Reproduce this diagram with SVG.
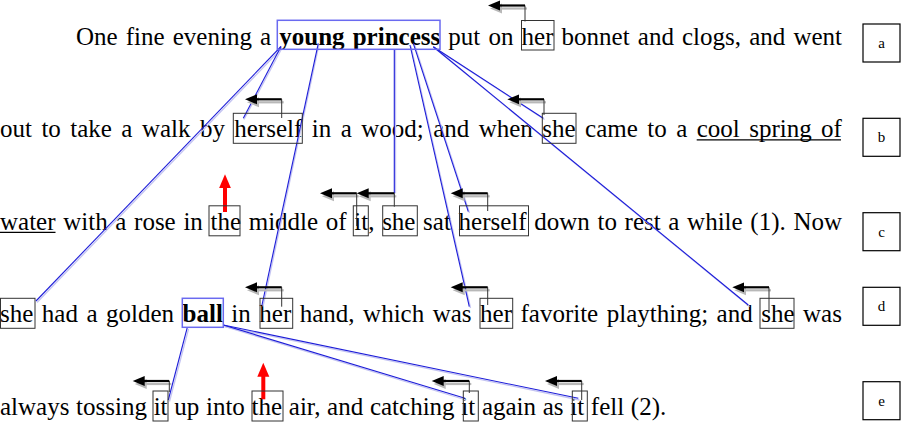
<svg xmlns="http://www.w3.org/2000/svg" width="901" height="422" viewBox="0 0 901 422">
<style>
.t{font-family:"Liberation Serif","Times New Roman",serif;font-size:25px;fill:#000}
.b{font-weight:bold}
.wb{fill:none;stroke:#333;stroke-width:1}
.bb{fill:none;stroke:#6a6af0;stroke-width:1.5}
.lb{fill:none;stroke:#1c1cd8;stroke-width:1.1}
.lh{fill:none;stroke:#c4c4f2;stroke-width:1.3}
.ar{fill:none;stroke:#000;stroke-width:2.2}
.as{fill:none;stroke:#b8b8b8;stroke-width:2.2}
.av{fill:none;stroke:#333;stroke-width:1}
.red{fill:none;stroke:#f00;stroke-width:4}
.lab{fill:#fff;stroke:#000;stroke-width:1.2}
.lt{font-family:"Liberation Serif","Times New Roman",serif;font-size:15px;text-anchor:middle}
.ul{stroke:#000;stroke-width:1.2}
</style>
<defs>
<marker id="ah" markerUnits="userSpaceOnUse" markerWidth="14" markerHeight="12" refX="2" refY="6" orient="auto" viewBox="0 0 14 12">
<path d="M0,1 L12,6 L0,11 z" fill="#000"/>
</marker>
<marker id="ahs" markerUnits="userSpaceOnUse" markerWidth="14" markerHeight="12" refX="2" refY="6" orient="auto" viewBox="0 0 14 12">
<path d="M0,1 L12,6 L0,11 z" fill="#b8b8b8"/>
</marker>
<marker id="rh" markerUnits="userSpaceOnUse" markerWidth="16" markerHeight="13" refX="2" refY="6.5" orient="auto" viewBox="0 0 16 13">
<path d="M0,0.5 L14,6.5 L0,12.5 z" fill="#f00"/>
</marker>
</defs>
<rect width="901" height="422" fill="#fff"/>

<g id="text">
<text class="t" x="76" y="44.8" word-spacing="1.88">One fine evening a <tspan class="b">young princess</tspan> put on her bonnet and clogs, and went</text>
<text class="t" x="0" y="137.3" word-spacing="3.19">out to take a walk by herself in a wood; and when she came to a cool spring of</text>
<text class="t" x="0" y="229.8" word-spacing="1.42">water with a rose in the middle of it, she sat herself down to rest a while (1). Now</text>
<text class="t" x="0" y="322.3" word-spacing="2.25">she had a golden <tspan class="b">ball</tspan> in her hand, which was her favorite plaything; and she was</text>
<text class="t" x="0" y="414.8" word-spacing="0.45">always tossing it up into the air, and catching it again as it fell (2).</text>
<line class="ul" x1="696.7" y1="139.8" x2="841" y2="139.8"/>
<line class="ul" x1="0" y1="232.3" x2="55.5" y2="232.3"/>
</g>

<g id="connectors">
<g id="links-shadow">
<line class="lh" x1="282" y1="48" x2="244" y2="119.5"/>
<line class="lh" x1="282" y1="48" x2="37" y2="302.5"/>
<line class="lh" x1="319" y1="44.5" x2="263" y2="306.5"/>
<line class="lh" x1="395.5" y1="50" x2="395.5" y2="193.3"/>
<line class="lh" x1="414.5" y1="44.5" x2="469.5" y2="213"/>
<line class="lh" x1="411" y1="46.5" x2="470.5" y2="308"/>
<line class="lh" x1="434.5" y1="48" x2="544.5" y2="119.5"/>
<line class="lh" x1="434.5" y1="48" x2="749.5" y2="306.5"/>
<line class="lh" x1="188.5" y1="329" x2="169.5" y2="401.5"/>
<line class="lh" x1="224.5" y1="326.5" x2="466" y2="400"/>
<line class="lh" x1="224.5" y1="326.5" x2="579.5" y2="400"/>
</g>
<g id="links">
<line class="lb" x1="281" y1="46.5" x2="243.3" y2="118.3"/>
<line class="lb" x1="281" y1="46.5" x2="36" y2="301"/>
<line class="lb" x1="318.3" y1="43.3" x2="262" y2="305"/>
<line class="lb" x1="394.3" y1="49.3" x2="394.3" y2="193.3"/>
<line class="lb" x1="413.3" y1="43.3" x2="468.3" y2="211.7"/>
<line class="lb" x1="410" y1="45" x2="469.3" y2="306.7"/>
<line class="lb" x1="433.3" y1="46.7" x2="543.3" y2="118.3"/>
<line class="lb" x1="433.3" y1="46.7" x2="748.3" y2="305"/>
<line class="lb" x1="187.3" y1="327.3" x2="168.3" y2="400"/>
<line class="lb" x1="223.3" y1="325" x2="465" y2="398.3"/>
<line class="lb" x1="223.3" y1="325" x2="578.3" y2="398.3"/>
</g>
<g id="arrow-shadows">
<path class="as" d="M527,8.5 H500" marker-end="url(#ahs)"/>
<path class="as" d="M283.7,102.3 H257" marker-end="url(#ahs)"/>
<path class="as" d="M546,102.3 H519.3" marker-end="url(#ahs)"/>
<path class="as" d="M396.3,196.3 H368.7" marker-end="url(#ahs)"/>
<path class="as" d="M358.7,196.3 H332" marker-end="url(#ahs)"/>
<path class="as" d="M489.7,196.3 H462.7" marker-end="url(#ahs)"/>
<path class="as" d="M283.7,290.3 H257" marker-end="url(#ahs)"/>
<path class="as" d="M489.7,290.3 H462.7" marker-end="url(#ahs)"/>
<path class="as" d="M771,290.3 H744.3" marker-end="url(#ahs)"/>
<path class="as" d="M171.3,384 H144.7" marker-end="url(#ahs)"/>
<path class="as" d="M471.3,384 H443.7" marker-end="url(#ahs)"/>
<path class="as" d="M583.7,384 H557" marker-end="url(#ahs)"/>
</g>
<g id="arrows">
<path class="av" d="M525,21.5 V5.5"/><path class="ar" d="M525,5.5 H498" marker-end="url(#ah)"/>
<path class="av" d="M281.7,118 V99.3"/><path class="ar" d="M281.7,99.3 H255" marker-end="url(#ah)"/>
<path class="av" d="M544,115 V99.3"/><path class="ar" d="M544,99.3 H517.3" marker-end="url(#ah)"/>
<path class="av" d="M394.3,206.7 V193.3"/><path class="ar" d="M394.3,193.3 H366.7" marker-end="url(#ah)"/>
<path class="av" d="M356.7,226 V193.3"/><path class="ar" d="M356.7,193.3 H330" marker-end="url(#ah)"/>
<path class="av" d="M487.7,211 V193.3"/><path class="ar" d="M487.7,193.3 H460.7" marker-end="url(#ah)"/>
<path class="av" d="M281.7,306.7 V287.3"/><path class="ar" d="M281.7,287.3 H255" marker-end="url(#ah)"/>
<path class="av" d="M487.7,305 V287.3"/><path class="ar" d="M487.7,287.3 H460.7" marker-end="url(#ah)"/>
<path class="av" d="M769,313 V287.3"/><path class="ar" d="M769,287.3 H742.3" marker-end="url(#ah)"/>
<path class="av" d="M169.3,392 V381"/><path class="ar" d="M169.3,381 H142.7" marker-end="url(#ah)"/>
<path class="av" d="M469.3,393 V381"/><path class="ar" d="M469.3,381 H441.7" marker-end="url(#ah)"/>
<path class="av" d="M581.7,400 V381"/><path class="ar" d="M581.7,381 H555" marker-end="url(#ah)"/>
</g>
<g id="red-arrows">
<path class="red" d="M225,212 V186.3" marker-end="url(#rh)"/>
<path class="red" d="M263.3,399.3 V374.7" marker-end="url(#rh)"/>
</g>
</g>

<g id="n-young-princess"><rect class="bb" x="277.3" y="20.3" width="162.7" height="29"/></g>
<g id="n-ball"><rect class="bb" x="182.3" y="298.3" width="41" height="29"/></g>
<g id="n-her-1"><rect class="wb" x="521.5" y="20.5" width="32.5" height="29.5"/></g>
<g id="n-herself-2"><rect class="wb" x="233.3" y="113.3" width="69" height="30"/></g>
<g id="n-she-2"><rect class="wb" x="542.3" y="113.3" width="33.7" height="30"/></g>
<g id="n-the-3"><rect class="wb" x="209" y="205.8" width="31" height="30"/></g>
<g id="n-it-3"><rect class="wb" x="353.3" y="205.8" width="15" height="30"/></g>
<g id="n-she-3"><rect class="wb" x="382.7" y="205.8" width="34.6" height="30"/></g>
<g id="n-herself-3"><rect class="wb" x="459.5" y="205.8" width="69" height="30"/></g>
<g id="n-she-4a"><rect class="wb" x="0.5" y="298.3" width="34.5" height="30"/></g>
<g id="n-her-4a"><rect class="wb" x="260" y="298.3" width="32.7" height="30"/></g>
<g id="n-her-4b"><rect class="wb" x="480" y="298.3" width="32.7" height="30"/></g>
<g id="n-she-4b"><rect class="wb" x="760" y="298.3" width="34" height="30"/></g>
<g id="n-it-5a"><rect class="wb" x="153" y="391" width="15" height="30"/></g>
<g id="n-the-5"><rect class="wb" x="252" y="391" width="31" height="30"/></g>
<g id="n-it-5b"><rect class="wb" x="463.3" y="391" width="15" height="30"/></g>
<g id="n-it-5c"><rect class="wb" x="572.3" y="391" width="15" height="30"/></g>

<g id="label-a"><rect class="lab" x="863" y="24" width="37" height="38"/><text class="lt" x="881.5" y="48">a</text></g>
<g id="label-b"><rect class="lab" x="863" y="118.3" width="37" height="38"/><text class="lt" x="881.5" y="142.3">b</text></g>
<g id="label-c"><rect class="lab" x="863" y="212.7" width="37" height="38"/><text class="lt" x="881.5" y="236.7">c</text></g>
<g id="label-d"><rect class="lab" x="863" y="287.3" width="37" height="38"/><text class="lt" x="881.5" y="311.3">d</text></g>
<g id="label-e"><rect class="lab" x="863" y="381.7" width="37" height="38"/><text class="lt" x="881.5" y="405.7">e</text></g>
</svg>
